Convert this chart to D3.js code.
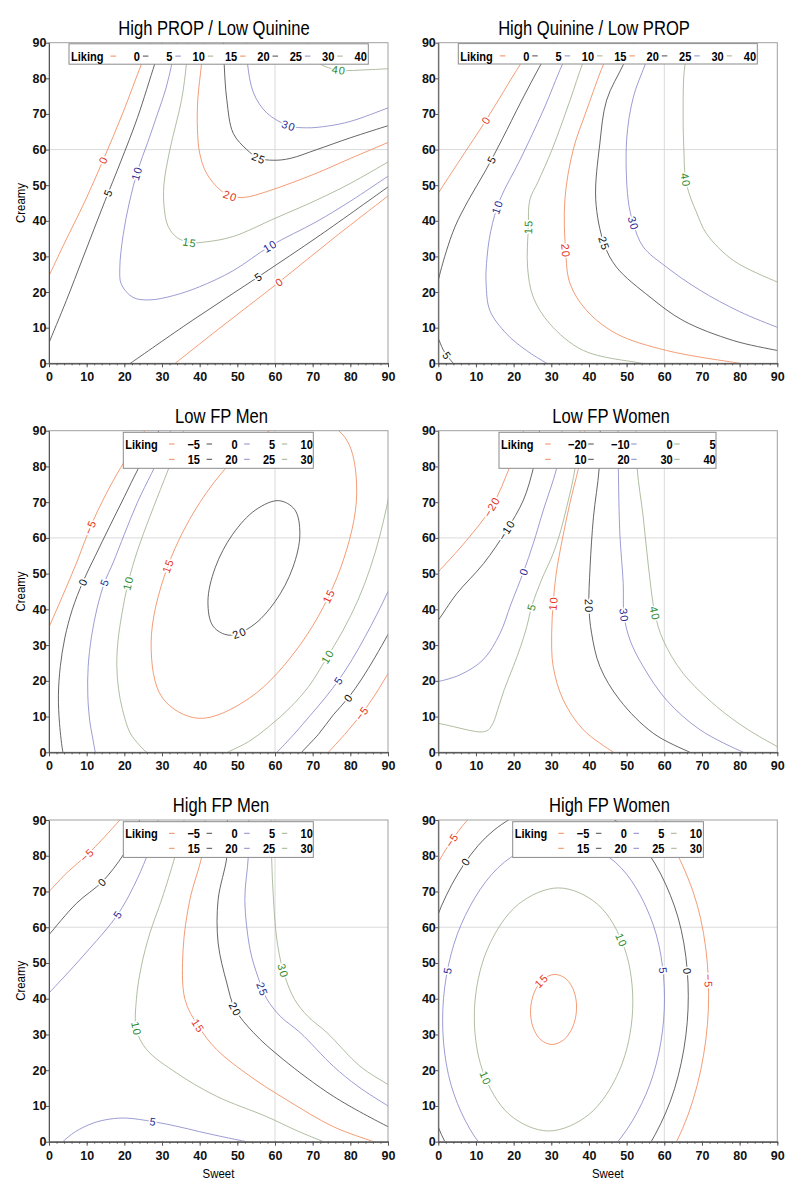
<!DOCTYPE html>
<html><head><meta charset="utf-8">
<script src="https://cdn.jsdelivr.net/npm/d3@7"></script>
<style>
body{margin:0;background:#fff;}
text{font-family:"Liberation Sans",Arial,Helvetica,sans-serif;}
</style></head><body>
<script>
// ---------------- DATA ----------------
const titles = ["High PROP / Low Quinine","High Quinine / Low PROP","Low FP Men","Low FP Women","High FP Men","High FP Women"];
const xTicks = [0,10,20,30,40,50,60,70,80,90];
const yTicks = [0,10,20,30,40,50,60,70,80,90];
const refValue = 60;

const p1Levels = [0,5,10,15,20,25,30,40];
const p1Lines = [
 {level:0, pts:[[-0.4,23.5],[0,24.5],[4,33.5],[9.5,45.4],[14.4,57.1],[19.5,70],[24.6,84.1],[27,90],[27.5,91.5]]},
 {level:0, pts:[[32.3,-1],[33.5,0],[45,9.6],[61.2,22.9],[76,35.5],[90,47],[91.5,48.3]]},
 {level:5, pts:[[-0.4,4.5],[0,5.7],[4.6,17.6],[9,29.6],[14.8,45.4],[19,56.5],[23.5,69],[28.1,84.1],[30,90],[30.4,91.5]]},
 {level:5, pts:[[20.2,-1],[21.6,0],[38,12],[55.6,24.3],[72,36],[90,49.5],[91.5,50.6]]},
 {level:10, pts:[[91.5,53.5],[90,52.5],[80,45.5],[71.1,39.8],[58.7,32.9],[48.9,26],[40,21.5],[33,19],[26.8,17.8],[22.3,18.5],[19.2,22.2],[18.8,26.9],[19.7,36.1],[21.3,45],[23.5,54],[26.2,62],[28.8,70],[31,77],[32.6,84],[33.8,90],[34.1,91.5]]},
 {level:15, pts:[[37.3,91.5],[37,90],[36.5,84.1],[35.2,74],[32.1,60],[30.5,50],[30.6,43.5],[31.6,38.5],[34,35.3],[37.4,33.9],[41.8,34.1],[48.9,35.6],[60,40.7],[71,45.8],[80,50.5],[90,56.5],[91.5,57.4]]},
 {level:20, pts:[[41.1,91.5],[41,90],[40.5,84.1],[39.5,74],[39.4,66],[40,59],[41.8,53.4],[45.4,48.7],[48.4,46.9],[52,46.6],[57.8,48.2],[64,50.5],[71.1,53.4],[80,57.5],[90,62],[91.5,62.7]]},
 {level:25, pts:[[46.3,91.5],[46.3,90],[46.5,84.1],[47.2,74],[48.9,64.6],[52.5,60],[55.6,57.6],[59.6,57],[64,57.5],[71.1,60],[80,63.3],[90,66.7],[91.5,67.2]]},
 {level:30, pts:[[52.3,91.5],[52.4,90],[52.7,84.1],[54.3,75.9],[57.8,70.3],[63.6,66.7],[68.4,66.1],[74,66.6],[80,67.9],[90,71.7],[91.5,72.3]]},
 {level:40, pts:[[68.3,91.5],[68.6,90],[69.6,86.5],[72,84],[76.9,82.3],[84.4,82.4],[90,82.7],[91.5,82.8]]}
];
const p1Labels = [[0,14.4,57.1],[5,16.1,47.7],[10,23.2,53.4],[5,55.6,24.3],[0,61.2,22.9],[10,58.7,32.9],[15,37.4,33.8],[20,48,46.9],[25,55.6,57.4],[30,63.6,66.5],[40,76.9,82]];

const p2Levels = [0,5,10,15,20,25,30,40];
const p2Lines = [
 {level:0, pts:[[-1,46.2],[0,47.8],[6,57.5],[12.7,68.3],[21.7,83.8],[25.7,90],[26.7,91.5]]},
 {level:5, pts:[[-0.4,21],[0,23.3],[2,31],[4.5,38.5],[8,45.8],[12.5,54],[17,63],[22,73.5],[27.2,83.85],[30.6,90],[31.4,91.5]]},
 {level:5, pts:[[-1,8.5],[0,6.9],[1.2,4],[2.4,2],[4,0],[4.8,-1]]},
 {level:10, pts:[[36.5,91.5],[35.8,90],[32.9,83.8],[27.9,71.1],[21.7,57.1],[16.4,46],[13.9,37],[12.8,28],[12.7,22.3],[13.7,14.8],[18.1,8.3],[23.4,3.6],[28.8,0],[30.5,-1]]},
 {level:15, pts:[[41.3,91.5],[40.7,90],[38.2,83.8],[35,73.9],[30.2,60],[26.5,51],[24.3,45.9],[23.9,38.3],[23.7,27],[25.2,18.6],[29.6,11.1],[38.5,3.6],[54,0],[58,-0.8]]},
 {level:20, pts:[[47,91.5],[46.5,90],[43.8,83.8],[39.4,71.1],[35.8,59.9],[33.6,45.9],[33.8,31.7],[35,22.3],[39.4,14.8],[47.3,8.3],[60.6,3.6],[80,0],[85,-0.8]]},
 {level:25, pts:[[52.2,91.5],[51.8,90],[49.1,83.8],[44.7,73.9],[42.9,61.8],[41.8,45.9],[44,33.6],[47.3,27],[56.2,18.6],[65,12],[78.3,6.4],[90,3.6],[92,3.2]]},
 {level:30, pts:[[57.5,91.5],[57.1,90],[54.9,83.8],[51.8,74.8],[50,62.7],[50.4,45.9],[51.8,39.2],[54.4,32.7],[60.6,27],[69.5,20.5],[80,14.5],[90,10.1],[92,9.3]]},
 {level:40, pts:[[67.6,91.5],[67.3,90],[65.5,83.8],[65,69.2],[65.2,60],[65.6,52],[66.8,47],[68.5,42.5],[71.2,36.4],[78.3,28.9],[90,22.8],[92,21.9]]}
];
const p2Labels = [[0,12.7,68.3],[5,13.5,57.6],[5,2.2,2.2],[10,16,43.9],[15,23.9,38.3],[20,33.8,31.7],[25,44,33.6],[30,51.8,39.2],[40,65.5,51.5]];

const p3Levels = [-5,0,5,10,15,20,25,30];
const p3Lines = [
 {level:-5, pts:[[-1,32.5],[0,35],[3.5,43.5],[7.5,53.5],[11,63.1],[15,72],[19.7,80.8],[24,87.5],[26.5,92]]},
 {level:-5, pts:[[73.5,-1],[74.2,0],[78.5,5],[83.1,10.9],[86.5,16],[90,22],[92,25.5]]},
 {level:0, pts:[[30,92],[28,87.5],[23.7,79.4],[20,71.5],[16,63],[12.3,55],[9,47.7],[6.2,40],[4.2,32],[3,24],[2.5,16],[2.8,8],[3.7,0],[4,-1]]},
 {level:0, pts:[[66.5,-1],[67.1,0],[71.5,5],[75.5,10.5],[79.5,15.3],[83,20.5],[86.5,26.5],[90,33],[92,37]]},
 {level:5, pts:[[33,92],[30,84],[27.2,78],[23.5,70],[20,61],[17,53],[14.8,47.7],[12.8,40.5],[11.3,32.5],[10.4,24],[10.3,16],[10.8,9],[11.6,4],[12.3,0],[12.6,-1]]},
 {level:5, pts:[[59.5,-1],[60.5,0],[65,5],[69.5,10.5],[73.5,15.5],[76.9,20.2],[80.5,26],[84,32.5],[87,38.5],[90,45],[92,50]]},
 {level:10, pts:[[36.5,92],[33.5,84],[30.5,76],[26.8,66],[23.5,56.5],[21,47.4],[19.4,39],[18.3,31],[18,24],[18.5,17.5],[19.5,12],[21.5,5.5],[24,2],[25.9,0],[27.5,-1]]},
 {level:10, pts:[[45.5,-1],[48,0.3],[53,3],[58.5,7.3],[64,12.5],[69,18.5],[73.5,26],[78,34],[82,42.5],[85.3,51.6],[87.8,60.5],[89.6,68.5],[91,76]]},
 {level:15, closed:true, pts:[[77.42,51.6],[81.69,72.65],[78.63,88.05],[69.09,93.69],[55.61,88.05],[41.81,72.65],[31.38,51.6],[27.11,30.55],[30.17,15.15],[39.71,9.51],[53.19,15.15],[66.99,30.55]]},
 {level:20, closed:true, pts:[[64.7,51.6],[66.6,61.0],[65.24,67.9],[60.97,70.42],[54.94,67.9],[48.76,61.0],[44.1,51.6],[42.2,42.19],[43.56,35.3],[47.83,32.78],[53.86,35.3],[60.04,42.19]]}
];
const p3Labels = [[-5,11,63.1],[0,9,47.7],[5,14.8,47.7],[10,21,47.4],[15,31.6,52],[20,50.3,34.2],[15,75,43.5],[10,73.8,26.8],[5,76.9,20.2],[0,79.5,15.3],[-5,83.1,10.9]];

const p4Levels = [-20,-10,0,5,10,20,30,40];
const p4Lines = [
 {level:-20, pts:[[-1,49.3],[0,50.5],[7.5,59.3],[14.2,68.7],[19,79.9],[22,88],[23.2,92]]},
 {level:-10, pts:[[-1,35.8],[0,37],[4.9,44.4],[12,52.8],[18.1,62.1],[22.6,70.6],[25.2,79.4],[26.5,86],[27,92]]},
 {level:0, pts:[[-1,19.6],[0,19.8],[5.8,21.7],[11.9,25.9],[16.4,33.3],[19.3,41.5],[22.7,50.7],[25.2,58.4],[27.9,67.8],[31.4,79.4],[32.5,86],[33,92]]},
 {level:5, pts:[[-1,8.3],[0,8.1],[4,7.2],[8,6.2],[11.5,5.7],[13.3,6.3],[14.6,8.3],[15.8,12],[17.5,17.5],[19.9,24],[22,30],[23.5,35.2],[24.8,40.8],[27.5,48.5],[30.5,55.6],[32.5,62],[34.1,68.7],[35.5,75],[36.3,79.4],[37.3,86],[37.8,92]]},
 {level:10, pts:[[39,92],[38.5,86],[37.2,79.4],[35,70],[33,60],[31.3,50],[30.5,41.7],[30.1,33.3],[30.5,24],[33.2,14.6],[38.5,6.3],[46.5,0],[48,-1]]},
 {level:20, pts:[[43,92],[42.7,79.4],[41.2,65.9],[40.3,51.9],[40,40.8],[40.7,33.3],[42.9,24],[48.2,14.6],[57.1,5.3],[66.8,0],[68.5,-0.8]]},
 {level:30, pts:[[47.7,92],[47.8,79.4],[48.2,61.2],[49.1,47.2],[49.3,38.4],[50.9,31.4],[54.4,24],[60.6,14.6],[69.5,6.3],[81,0],[83,-0.8]]},
 {level:40, pts:[[52.5,92],[52.8,79.4],[54.4,65.9],[55.8,51.9],[57.5,38.9],[59.7,31.4],[65,22.1],[73.9,12.8],[82,6.5],[90,1.6],[92,0.5]]}
];
const p4Labels = [[-20,14.2,68.7],[-10,18.1,62.1],[0,22.7,50.7],[5,24.8,40.8],[10,30.5,41.7],[20,40,40.8],[30,49.3,38.4],[40,57.5,38.9]];

const p5Levels = [-5,0,5,10,15,20,25,30];
const p5Lines = [
 {level:-5, pts:[[-1,69],[0,70],[5,75.5],[10.1,80.2],[14.5,85],[18.8,90],[20,91.5]]},
 {level:0, pts:[[-1,56.7],[0,57.9],[7.3,66.7],[14.2,72.8],[19.7,80.2],[22.5,85.5],[24.5,91.5]]},
 {level:5, pts:[[-1,40.5],[0,41.6],[9,51.9],[18.2,63.5],[22.5,71.5],[25.9,79.6],[28,86],[29.3,91.5]]},
 {level:5, pts:[[3,-1],[3.7,0],[7,2.8],[11.7,5.2],[16,6.3],[20.6,6.6],[27.7,5.6],[34,4.3],[40,2.8],[46,1.4],[52.5,0],[55,-0.5]]},
 {level:10, pts:[[36.2,91.5],[35,86],[33.4,79.6],[30,68],[26.8,58.4],[24.5,49],[23.2,39.8],[23.2,31.5],[25.9,25.8],[33.9,19.2],[44.5,12.7],[57.8,7],[66,3],[72.9,0],[75,-0.8]]},
 {level:15, pts:[[41.6,91.5],[41.2,86],[40.5,79.6],[37.4,67.7],[35.6,53.7],[36.1,39.8],[39.6,32.4],[44.5,25.8],[53.4,18.3],[63.1,11.7],[75.5,4.2],[86.2,0],[88.5,-0.8]]},
 {level:20, pts:[[47.4,91.5],[47.3,86],[47.2,79.6],[44.9,67.7],[44.9,55.6],[47.2,44.4],[49.4,37.1],[54.3,30.5],[62.2,23],[75.5,12.7],[90,4.2],[92,3.2]]},
 {level:25, pts:[[53,91.5],[52.9,79.6],[52,67.7],[53.4,53.7],[55.5,46],[57.8,40],[61.5,35],[66.7,30.5],[75.5,21.1],[82,15.5],[90,10],[92,8.7]]},
 {level:30, pts:[[59,91.5],[59.1,79.6],[59.6,67.7],[60.5,56.5],[62.2,47.7],[65.2,39.8],[68.8,35],[73.8,30.5],[82.6,21.1],[90,16],[92,14.7]]}
];
const p5Labels = [[-5,10.1,80.2],[0,14.2,72.8],[5,18.2,63.5],[5,27.7,5.6],[10,23.2,31.5],[15,39.6,32.4],[20,49.4,37.1],[25,56.5,42.6],[30,62.2,47.7]];

const p6Levels = [-5,0,5,10,15,20,25,30];
const p6Lines = [
 {level:15, closed:true, pts:[[36.7,37],[36.08,41.9],[33.99,45.49],[30.99,46.8],[27.89,45.49],[25.52,41.9],[24.5,37],[25.12,32.1],[27.21,28.51],[30.21,27.2],[33.31,28.51],[35.68,32.1]]},
 {level:10, closed:true, pts:[[51.6,37],[49.47,54],[42.28,66.44],[31.96,71],[21.28,66.44],[13.09,54],[9.6,37],[11.73,20],[18.92,7.56],[29.24,3],[39.92,7.56],[48.11,20]]},
 {level:5, closed:true, pts:[[60,37],[57.01,60.8],[46.95,78.22],[32.5,84.6],[17.55,78.22],[6.09,60.8],[1.2,37],[4.19,13.2],[14.25,-4.22],[28.7,-10.6],[43.65,-4.22],[55.11,13.2]]},
 {level:0, closed:true, pts:[[66.3,37],[62.68,65.95],[50.46,87.14],[32.92,94.9],[14.76,87.14],[0.84,65.95],[-5.1,37],[-1.48,8.05],[10.74,-13.14],[28.28,-20.9],[46.44,-13.14],[60.36,8.05]]},
 {level:-5, closed:true, pts:[[71.7,37],[67.52,70.3],[53.46,94.68],[33.26,103.6],[12.36,94.68],[-3.66,70.3],[-10.5,37],[-6.32,3.7],[7.74,-20.68],[27.94,-29.6],[48.84,-20.68],[64.86,3.7]]}
];
const p6Labels = [[-5,4.4,84],[0,8,77.9],[5,3.1,47.7],[10,47.8,56],[10,11.9,17.4],[15,27.4,44.9],[5,59.3,47.7],[0,65.9,47.7],[-5,71.2,44.9]];

// ---------------- LAYOUT / STYLE ----------------
const lineColors = ["#f28a5c","#4a4a4a","#8a8acc","#a0b290"];
const labelColors = ["#e5331b","#111111","#2a2a95","#2e8a2e"];
const W = 800, H = 1198;
const layout = [
 {x:49, y:42.7, w:339, h:320.6, tx:214, ty:35, yl:true, xl:false, leg:{x:69, y:43.8, w:299.3, h:20.4, cols:8, r1:12.3, firstR:71, colW:32.4, back:29.5}},
 {x:438.3, y:42.7, w:339, h:320.6, tx:594, ty:35, yl:false, xl:false, leg:{x:458.3, y:43.6, w:299, h:20.4, cols:8, r1:12.3, firstR:71, colW:32.4, back:29.5}},
 {x:49, y:430.7, w:339, h:321.6, tx:221.5, ty:423.3, yl:true, xl:false, leg:{x:123.3, y:432.3, w:190, h:36, cols:4, r1:11.7, r2:27, firstR:76.7, colW:37.6, back:31}},
 {x:438.3, y:430.7, w:339, h:321.6, tx:611, ty:423.3, yl:false, xl:false, leg:{x:499, y:432.3, w:217, h:36, cols:4, r1:11.7, r2:27, firstR:87.7, colW:43, back:41.5}},
 {x:49, y:820, w:339, h:321.7, tx:221, ty:812.3, yl:true, xl:true, leg:{x:123.3, y:821.7, w:190, h:35.7, cols:4, r1:11.6, r2:26.6, firstR:76.7, colW:37.6, back:31}},
 {x:438.3, y:820, w:339, h:321.7, tx:609.5, ty:812.3, yl:false, xl:true, leg:{x:512.7, y:821.7, w:190.7, h:35.7, cols:4, r1:11.6, r2:26.6, firstR:76.6, colW:37.6, back:31}}
];
const panelData = [
 {levels:p1Levels, lines:p1Lines, labels:p1Labels},
 {levels:p2Levels, lines:p2Lines, labels:p2Labels},
 {levels:p3Levels, lines:p3Lines, labels:p3Labels},
 {levels:p4Levels, lines:p4Lines, labels:p4Labels},
 {levels:p5Levels, lines:p5Lines, labels:p5Labels},
 {levels:p6Levels, lines:p6Lines, labels:p6Labels}
];

const fmt = v => v < 0 ? "\u2212" + Math.abs(v) : String(v);

const svg = d3.select("body").append("svg").attr("width", W).attr("height", H);
const defs = svg.append("defs");

function addText(g, x, y, str, o) {
  o = o || {};
  let tr = `translate(${x},${y})`;
  if (o.rot) tr += ` rotate(${o.rot})`;
  if (o.sx) tr += ` scale(${o.sx},1)`;
  const t = g.append("text").attr("transform", tr)
    .attr("text-anchor", o.anchor || "start")
    .attr("font-size", o.size || 12)
    .attr("font-weight", o.weight || "normal")
    .attr("fill", o.fill || "#000")
    .text(str);
  if (o.dy) t.attr("dy", o.dy);
  if (o.ls) t.attr("letter-spacing", o.ls);
  return t;
}

layout.forEach((P, pi) => {
  const D = panelData[pi];
  const g = svg.append("g");
  const xs = d3.scaleLinear().domain([0, 90]).range([P.x, P.x + P.w]);
  const ys = d3.scaleLinear().domain([0, 90]).range([P.y + P.h, P.y]);
  const cid = "clip" + pi;
  defs.append("clipPath").attr("id", cid).append("rect")
    .attr("x", P.x).attr("y", P.y).attr("width", P.w).attr("height", P.h);

  // reference lines
  g.append("line").attr("x1", xs(refValue)).attr("x2", xs(refValue)).attr("y1", ys(0)).attr("y2", ys(90))
    .attr("stroke", "#d6d6d6").attr("stroke-width", 0.9);
  g.append("line").attr("x1", xs(0)).attr("x2", xs(90)).attr("y1", ys(refValue)).attr("y2", ys(refValue))
    .attr("stroke", "#d6d6d6").attr("stroke-width", 0.9);

  // contours
  const cg = g.append("g").attr("clip-path", `url(#${cid})`);
  const openGen = d3.line().x(d => xs(d[0])).y(d => ys(d[1])).curve(d3.curveCatmullRom.alpha(0.5));
  const closedGen = d3.line().x(d => xs(d[0])).y(d => ys(d[1])).curve(d3.curveCatmullRomClosed.alpha(0.5));
  const paths = [];
  D.lines.forEach(L => {
    const idx = D.levels.indexOf(L.level);
    const p = cg.append("path").attr("d", (L.closed ? closedGen : openGen)(L.pts))
      .attr("fill", "none").attr("stroke", lineColors[idx % 4]).attr("stroke-width", 0.85);
    paths.push({level: L.level, node: p.node()});
  });

  // contour labels
  const lg = g.append("g");
  D.labels.forEach(([lev, lx, ly]) => {
    const tx = xs(lx), ty = ys(ly);
    let best = null;
    paths.filter(p => p.level === lev).forEach(p => {
      const len = p.node.getTotalLength();
      for (let s = 0; s <= len; s += 1) {
        const pt = p.node.getPointAtLength(s);
        const d = (pt.x - tx) ** 2 + (pt.y - ty) ** 2;
        if (!best || d < best.d) best = {d, s, node: p.node, len};
      }
    });
    if (!best) return;
    const a = best.node.getPointAtLength(Math.max(0, best.s - 5));
    const b = best.node.getPointAtLength(Math.min(best.len, best.s + 5));
    const c = best.node.getPointAtLength(best.s);
    let ang = Math.atan2(b.y - a.y, b.x - a.x) * 180 / Math.PI;
    if (ang > 90) ang -= 180;
    if (ang < -90) ang += 180;
    const idx = D.levels.indexOf(lev);
    addText(lg, c.x, c.y, fmt(lev), {size: 11, anchor: "middle", rot: ang, dy: "0.36em",
      fill: labelColors[idx % 4], ls: 1})
      .attr("stroke", "#fff").attr("stroke-width", 3.2).attr("paint-order", "stroke").attr("stroke-linejoin", "round");
  });

  // legend
  const L = P.leg;
  const leg = g.append("g");
  leg.append("rect").attr("x", L.x).attr("y", L.y).attr("width", L.w).attr("height", L.h)
    .attr("fill", "#fff").attr("stroke", "#8a8a8a").attr("stroke-width", 1);
  addText(leg, L.x + 2, L.y + L.r1 + 4.6, "Liking", {size: 13, weight: "bold", sx: 0.85});
  D.levels.forEach((lev, i) => {
    const row = L.cols === 8 ? 0 : Math.floor(i / 4);
    const col = L.cols === 8 ? i : i % 4;
    const cy = L.y + (row === 0 ? L.r1 : L.r2);
    const right = L.x + L.firstR + col * L.colW;
    const dx = right - L.back;
    leg.append("line").attr("x1", dx).attr("x2", dx + 5.5).attr("y1", cy).attr("y2", cy)
      .attr("stroke", lineColors[i % 4]).attr("stroke-width", 1);
    addText(leg, right, cy + 4.6, fmt(lev), {size: 13, weight: "bold", anchor: "end", sx: 0.85});
  });

  // frame
  g.append("rect").attr("x", P.x).attr("y", P.y).attr("width", P.w).attr("height", P.h)
    .attr("fill", "none").attr("stroke", "#a0a0a0").attr("stroke-width", 1);

  // axes
  const xa = g.append("g").attr("transform", `translate(0,${P.y + P.h})`)
    .call(d3.axisBottom(xs).tickValues(xTicks).tickSize(4).tickPadding(5).tickSizeOuter(0));
  const xm = g.append("g").attr("transform", `translate(0,${P.y + P.h})`)
    .call(d3.axisBottom(xs).tickValues(d3.range(0, 91, 2)).tickSize(2).tickFormat("").tickSizeOuter(0));
  const ya = g.append("g").attr("transform", `translate(${P.x},0)`)
    .call(d3.axisLeft(ys).tickValues(yTicks).tickSize(3).tickPadding(-0.5).tickSizeOuter(0));
  [xa, xm, ya].forEach(a => {
    a.select(".domain").attr("stroke", "#555");
    a.selectAll(".tick line").attr("stroke", "#555");
    a.selectAll("text").attr("font-size", 12.5).attr("font-weight", "bold").attr("fill", "#111")
      .attr("font-family", '"Liberation Sans",Arial,sans-serif');
  });

  // titles & axis labels
  addText(svg, P.tx, P.ty, titles[pi], {size: 20, anchor: "middle", sx: 0.83});
  if (P.yl) addText(svg, 25, P.y + P.h / 2, "Creamy", {size: 13, anchor: "middle", rot: -90, sx: 0.88});
  if (P.xl) addText(svg, P.x + P.w / 2, 1178.3, "Sweet", {size: 13, anchor: "middle", sx: 0.88});
});
</script></body></html>
